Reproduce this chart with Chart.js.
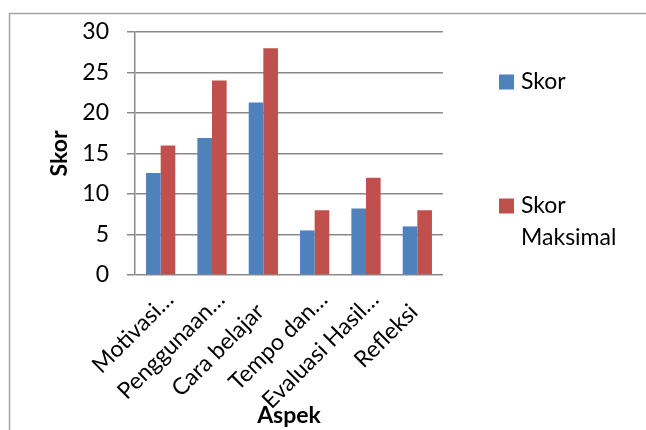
<!DOCTYPE html>
<html>
<head>
<meta charset="utf-8">
<script src="https://cdn.jsdelivr.net/npm/chart.js@4/dist/chart.umd.min.js"></script>
<style>
  html, body { margin: 0; padding: 0; background: #ffffff; }
  #wrap { position: relative; width: 646px; height: 430px; }
</style>
</head>
<body>
<div id="wrap"><canvas id="c"></canvas></div>
<script>
const categories = ["Motivasi…", "Penggunaan…", "Cara belajar", "Tempo dan…", "Evaluasi Hasil…", "Refleksi"];
const seriesNames = ["Skor", "Skor Maksimal"];
const skor = [12.6, 16.9, 21.3, 5.5, 8.2, 6.0];
const skorMaksimal = [16, 24, 28, 8, 12, 8];
const yTicks = [0, 5, 10, 15, 20, 25, 30];
const xTitle = "Aspek";
const yTitle = "Skor";

const FONT = "Lato, 'Open Sans', sans-serif";
const colors = ["#4f81bd", "#c0504d"];

const framePlugin = {
  id: 'frame',
  beforeDraw(chart) {
    const ctx = chart.ctx;
    ctx.save();
    ctx.strokeStyle = '#a3a3a3';
    ctx.lineWidth = 1.5;
    ctx.strokeRect(9.5, 13.5, 700, 600);
    ctx.restore();
  }
};

const legendPlugin = {
  id: 'customLegend',
  afterDraw(chart, args, opts) {
    const ctx = chart.ctx;
    ctx.save();
    ctx.font = opts.fontSize + 'px ' + FONT;
    ctx.textBaseline = 'middle';
    ctx.textAlign = 'left';
    chart.data.datasets.forEach((ds, i) => {
      const cy = opts.itemY[i];
      ctx.fillStyle = ds.backgroundColor;
      ctx.fillRect(opts.boxX, cy - opts.box / 2, opts.box, opts.box);
      const words = ds.label.split(' ');
      const lines = [];
      let cur = '';
      words.forEach(w => {
        const t = cur ? cur + ' ' + w : w;
        if (ctx.measureText(t).width > opts.maxWidth && cur) { lines.push(cur); cur = w; }
        else cur = t;
      });
      if (cur) lines.push(cur);
      ctx.fillStyle = '#000000';
      lines.forEach((ln, j) => ctx.fillText(ln, opts.textX, cy + j * opts.lineHeight));
    });
    ctx.restore();
  }
};

new Chart(document.getElementById('c'), {
  type: 'bar',
  data: {
    labels: categories,
    datasets: [
      { label: seriesNames[0], data: skor, backgroundColor: colors[0] },
      { label: seriesNames[1], data: skorMaksimal, backgroundColor: colors[1] }
    ]
  },
  options: {
    responsive: true,
    maintainAspectRatio: false,
    animation: false,
    layout: { padding: { left: 0, top: 32, right: 203, bottom: 0 } },
    datasets: { bar: { categoryPercentage: 0.57, barPercentage: 1.0 } },
    plugins: {
      legend: { display: false },
      tooltip: { enabled: false },
      customLegend: { boxX: 499, textX: 521, box: 15, itemY: [82, 206], fontSize: 23, lineHeight: 32, maxWidth: 118 }
    },
    scales: {
      x: {
        grid: { display: false },
        border: { display: false },
        ticks: {
          color: '#000000',
          font: { family: FONT, size: 23 },
          minRotation: 45,
          maxRotation: 45,
          autoSkip: false,
          padding: 3,
          labelOffset: 9,
          callback(value) {
            const lbl = this.getLabelForValue(value);
            // untruncated labels sit a little lower along the slant in the original
            return lbl.endsWith('…') ? lbl : lbl + '\u00a0\u00a0\u00a0';
          }
        },
        title: {
          display: true,
          text: xTitle,
          color: '#000000',
          font: { family: FONT, size: 23, weight: 'bold' },
          padding: { top: 0, bottom: 1 }
        },
        afterFit(scale) { scale.height = 155; }
      },
      y: {
        min: 0,
        max: 30,
        afterBuildTicks(scale) { scale.ticks = yTicks.map(v => ({ value: v })); },
        grid: { color: '#898989', lineWidth: 1.5, tickLength: 8, drawTicks: true },
        border: { display: true, color: '#898989', width: 1.5 },
        ticks: {
          color: '#000000',
          font: { family: FONT, size: 23 },
          padding: 18
        },
        title: {
          display: true,
          text: yTitle,
          color: '#000000',
          font: { family: FONT, size: 23, weight: 'bold' },
          padding: { top: 46, bottom: 0 }
        },
        afterFit(scale) { scale.width = 135; }
      }
    }
  },
  plugins: [framePlugin, legendPlugin]
});
</script>
</body>
</html>
